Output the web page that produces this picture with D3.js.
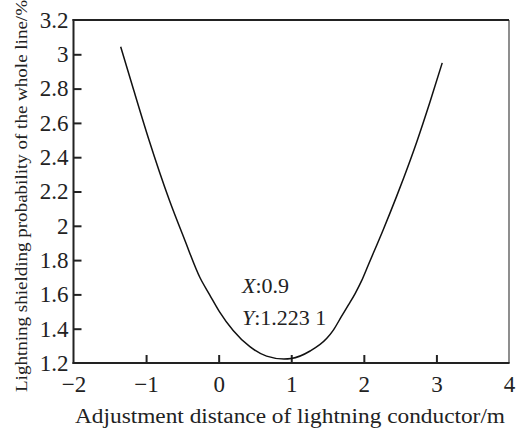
<!DOCTYPE html>
<html lang="en">
<head>
    <meta charset="UTF-8">
    <title>Lightning shielding probability vs adjustment distance</title>
    <script src="https://d3js.org/d3.v7.min.js"></script>
    <style>
        body {
            margin: 0;
            background: #fff;
        }
        svg {
            display: block;
            font-family: "Liberation Serif", "DejaVu Serif", serif;
        }
        .curve {
            fill: none;
            stroke: #111;
            stroke-width: 1.5px;
        }
        .note {
            font-size: 22px;
            fill: #222;
        }
    </style>
</head>
<body>
    <svg width="516" height="428"></svg>

    <script>
        // values
        const distance = [-1.35, -1.17, -0.96, -0.68, -0.47, -0.26, -0.12, 0.01, 0.2, 0.43, 0.66, 0.9, 1.0, 1.26,
            1.49, 1.58, 1.69, 1.79, 1.88, 1.97, 2.06, 2.27, 2.45, 2.55, 2.73, 2.91, 3.08];
        const probability = [3.044, 2.79, 2.5, 2.15, 1.92, 1.70, 1.595, 1.50, 1.39, 1.295, 1.24, 1.2231, 1.226, 1.27,
            1.344, 1.392, 1.47, 1.54, 1.605, 1.68, 1.77, 1.98, 2.17, 2.28, 2.49, 2.72, 2.95];
        const xTicks = [-2, -1, 0, 1, 2, 3, 4];
        const yTicks = [1.2, 1.4, 1.6, 1.8, 2, 2.2, 2.4, 2.6, 2.8, 3, 3.2];
        const minPoint = { x: "0.9", y: "1.223 1" };

        const svg = d3.select("svg");
        const serif = '"Liberation Serif", "DejaVu Serif", serif';

        const x = d3.scaleLinear().domain([-2, 4]).range([73.5, 509]);
        const y = d3.scaleLinear().domain([1.2, 3.2]).range([363, 20]);

        // x axis, ticks pointing inward
        const xAxis = svg.append("g")
            .attr("transform", `translate(0,${y(1.2)})`)
            .call(d3.axisBottom(x).tickValues(xTicks).tickSizeInner(-8).tickSizeOuter(0).tickPadding(13)
                .tickFormat(d3.format("d")));

        const yAxis = svg.append("g")
            .attr("transform", `translate(${x(-2)},0)`)
            .call(d3.axisLeft(y).tickValues(yTicks).tickSizeInner(-8).tickSizeOuter(0).tickPadding(5)
                .tickFormat(d => d3.format("")(+d.toFixed(1))));

        [xAxis, yAxis].forEach(g => {
            g.select(".domain").remove();
            g.selectAll(".tick text")
                .style("font-family", serif)
                .style("font-size", "23px")
                .style("fill", "#222");
            g.selectAll(".tick line").style("stroke", "#222").style("stroke-width", "2px");
        });
        // no tick mark on the frame corners
        yAxis.selectAll(".tick line").filter(d => d === 1.2 || d === 3.2).remove();
        xAxis.selectAll(".tick line").filter(d => d === -2 || d === 4).remove();

        // frame
        svg.append("line").attr("x1", x(4)).attr("x2", x(4)).attr("y1", y(3.2)).attr("y2", y(1.2))
            .attr("stroke", "#444").attr("stroke-width", 1.2);
        svg.append("line").attr("x1", x(-2) - 1).attr("x2", x(4)).attr("y1", y(3.2)).attr("y2", y(3.2))
            .attr("stroke", "#222").attr("stroke-width", 2);
        svg.append("line").attr("x1", x(-2) - 1).attr("x2", x(4) + 0.6).attr("y1", y(1.2)).attr("y2", y(1.2))
            .attr("stroke", "#222").attr("stroke-width", 2);
        svg.append("line").attr("x1", x(-2)).attr("x2", x(-2)).attr("y1", y(3.2) - 1).attr("y2", y(1.2) + 1)
            .attr("stroke", "#222").attr("stroke-width", 2);

        // curve
        const line = d3.line()
            .x(i => x(distance[i]))
            .y(i => y(probability[i]))
            .curve(d3.curveMonotoneX);

        svg.append("path")
            .attr("class", "curve")
            .attr("d", line(d3.range(distance.length)));

        // minimum annotation
        const note = svg.append("text").attr("class", "note").attr("x", 242).attr("y", 293);
        note.append("tspan").attr("font-style", "italic").text("X");
        note.append("tspan").text(":" + minPoint.x);
        const note2 = svg.append("text").attr("class", "note").attr("x", 242).attr("y", 325);
        note2.append("tspan").attr("font-style", "italic").text("Y");
        note2.append("tspan").text(":" + minPoint.y);

        // axis titles
        svg.append("text")
            .attr("x", 290).attr("y", 423)
            .attr("text-anchor", "middle")
            .attr("font-size", 20)
            .attr("fill", "#222")
            .attr("textLength", 430)
            .attr("lengthAdjust", "spacingAndGlyphs")
            .text("Adjustment distance of lightning conductor/m");

        svg.append("text")
            .attr("transform", "translate(27,196) rotate(-90)")
            .attr("text-anchor", "middle")
            .attr("font-size", 17)
            .attr("fill", "#222")
            .attr("textLength", 392)
            .attr("lengthAdjust", "spacingAndGlyphs")
            .text("Lightning shielding probability of the whole line/%");
    </script>
</body>
</html>
